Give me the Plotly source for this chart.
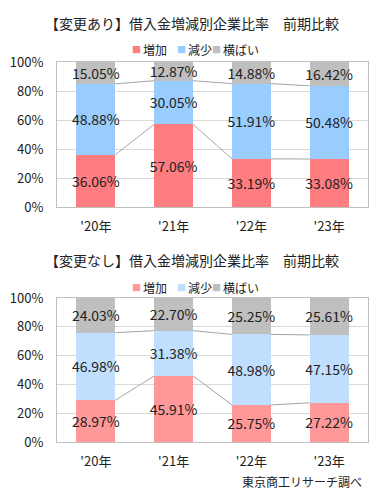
import plotly.graph_objects as go
from plotly.subplots import make_subplots

categories = ["'20年", "'21年", "'22年", "'23年"]
series_names = ["増加", "減少", "横ばい"]

top_title = "【変更あり】借入金増減別企業比率　前期比較"
top_increase = [36.06, 57.06, 33.19, 33.08]
top_decrease = [48.88, 30.05, 51.91, 50.48]
top_flat = [15.05, 12.87, 14.88, 16.42]

bottom_title = "【変更なし】借入金増減別企業比率　前期比較"
bottom_increase = [28.97, 45.91, 25.75, 27.22]
bottom_decrease = [46.98, 31.38, 48.98, 47.15]
bottom_flat = [24.03, 22.70, 25.25, 25.61]

y_ticks = [0, 20, 40, 60, 80, 100]
source_text = "東京商工リサーチ調べ"

FONT = "Noto Sans CJK JP"
TXT = "#222222"
top_colors = ["#FF7C80", "#99CCFF", "#BFBFBF"]
bottom_colors = ["#FF9999", "#C0DFFF", "#BFBFBF"]
BAR_W = 0.5

# pixel layout helpers
L, R, T, B = 57, 17, 62, 58
PW, PH = 385 - L - R, 500 - T - B

def px_x(px):
    return (px - L) / PW

def px_y(py):
    return 1 - (py - T) / PH

fig = make_subplots(rows=2, cols=1)

def add_panel(row, data, colors):
    xs = list(range(len(categories)))
    for name, vals, col in zip(series_names, data, colors):
        fig.add_trace(go.Bar(
            x=xs, y=vals, name=name, width=BAR_W,
            marker=dict(color=col, line=dict(width=0)),
            text=[f"{v:.2f}%" for v in vals],
            textposition="inside", insidetextanchor="middle",
            textfont=dict(family=FONT, size=14, color=TXT),
            textangle=0, constraintext="none",
            showlegend=False, hoverinfo="skip",
        ), row=row, col=1)
    cum = [0.0] * len(categories)
    for vals in data[:-1]:
        cum = [c + v for c, v in zip(cum, vals)]
        lx, ly = [], []
        for i in range(len(categories) - 1):
            lx += [i + BAR_W / 2, i + 1 - BAR_W / 2, None]
            ly += [cum[i], cum[i + 1], None]
        fig.add_trace(go.Scatter(
            x=lx, y=ly, mode="lines", line=dict(color="#A6A6A6", width=1),
            showlegend=False, hoverinfo="skip",
        ), row=row, col=1)

add_panel(1, [top_increase, top_decrease, top_flat], top_colors)
add_panel(2, [bottom_increase, bottom_decrease, bottom_flat], bottom_colors)

fig.update_xaxes(
    tickvals=list(range(len(categories))), ticktext=categories,
    range=[-0.5, len(categories) - 0.5],
    showgrid=False, zeroline=False,
    showline=True, linecolor="#BFBFBF", linewidth=1, mirror=True,
    ticks="", ticklabelstandoff=7,
    tickfont=dict(family=FONT, size=13, color=TXT),
)
fig.update_yaxes(
    range=[0, 100], tickvals=y_ticks, ticktext=[f"{t}%" for t in y_ticks],
    showgrid=True, gridcolor="#D9D9D9", gridwidth=1, zeroline=False,
    showline=True, linecolor="#BFBFBF", linewidth=1, mirror=True,
    ticks="", ticklabelstandoff=10,
    tickfont=dict(family=FONT, size=13, color=TXT),
)
fig.update_yaxes(domain=[px_y(207), 1.0], row=1, col=1)
fig.update_yaxes(domain=[0.0, px_y(298)], row=2, col=1)

fig.update_layout(
    barmode="stack",
    width=385, height=500,
    margin=dict(l=L, r=R, t=T, b=B, autoexpand=False),
    paper_bgcolor="white", plot_bgcolor="white",
    font=dict(family=FONT, size=13, color=TXT),
    showlegend=False,
)

# compact legends (square key + label) as annotations
legend_key_x = [130, 175, 210]
legend_text_x = [141, 186, 221]

def add_legend(py, colors):
    for name, col, kx, tx in zip(series_names, colors, legend_key_x, legend_text_x):
        fig.add_annotation(text="■", xref="paper", yref="paper", x=px_x(kx), y=px_y(py),
                           xanchor="left", yanchor="middle", showarrow=False,
                           font=dict(family=FONT, size=9, color=col))
        fig.add_annotation(text=name, xref="paper", yref="paper", x=px_x(tx), y=px_y(py),
                           xanchor="left", yanchor="middle", showarrow=False,
                           font=dict(family=FONT, size=12, color=TXT))

add_legend(50, top_colors)
add_legend(287, bottom_colors)

fig.add_annotation(text=top_title, xref="paper", yref="paper", x=px_x(192),
                   y=px_y(23), xanchor="center", yanchor="middle",
                   showarrow=False, font=dict(family=FONT, size=14, color=TXT))
fig.add_annotation(text=bottom_title, xref="paper", yref="paper", x=px_x(192),
                   y=px_y(260), xanchor="center", yanchor="middle",
                   showarrow=False, font=dict(family=FONT, size=14, color=TXT))
fig.add_annotation(text=source_text, xref="paper", yref="paper", x=px_x(240),
                   y=px_y(481), xanchor="left", yanchor="middle",
                   showarrow=False, font=dict(family=FONT, size=12, color=TXT))

fig.write_html("out.html", config={"displayModeBar": False},
               post_script="document.body.style.margin='0';document.body.style.padding='0';")
